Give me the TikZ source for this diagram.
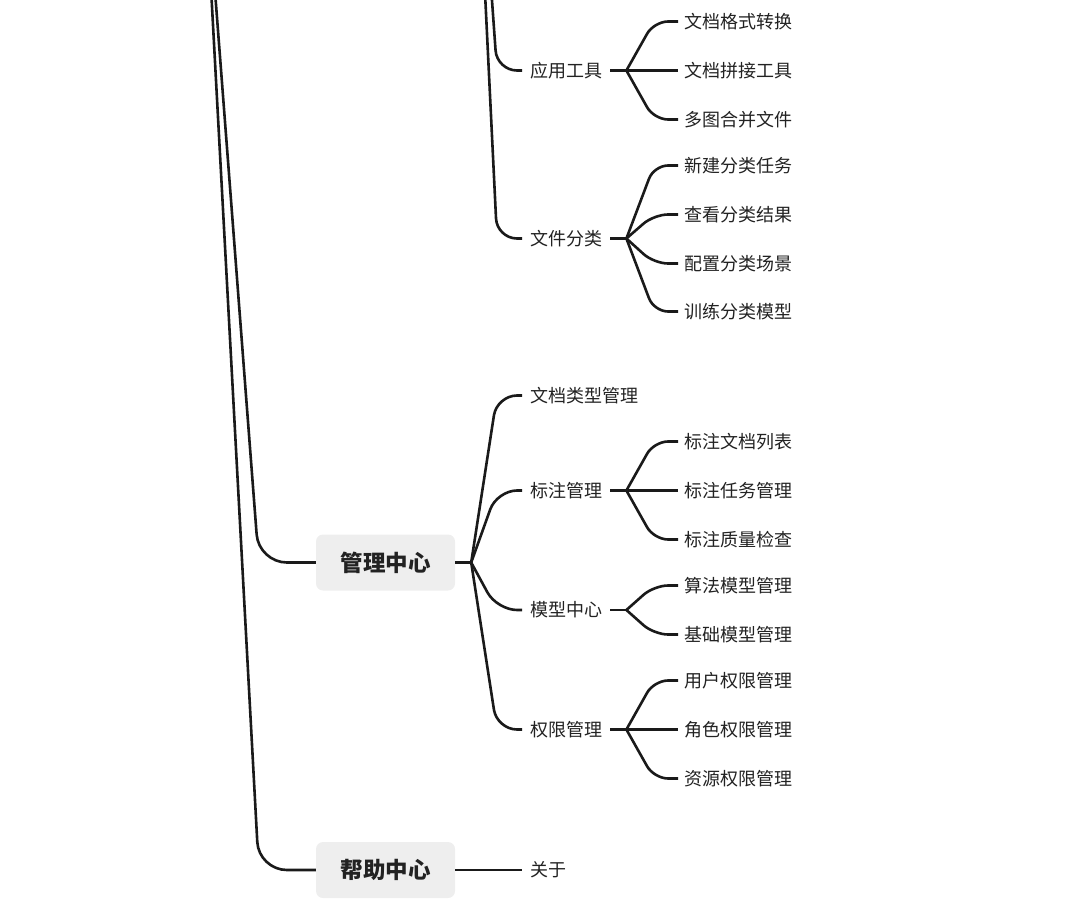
\documentclass[tikz,border=0pt]{standalone}
\usepackage{fontspec}
\newfontfamily\cjk{Noto Sans CJK SC}
\definecolor{ink}{HTML}{1A1A1A}
\definecolor{txt}{HTML}{222222}
\definecolor{boxgray}{HTML}{EEEEEE}
\begin{document}
\begin{tikzpicture}[x=1pt,y=-1pt,
  link/.style={draw=ink, line width=2.6pt, line join=round},
  toplink/.style={link, rounded corners=28pt},
  midlink/.style={link, rounded corners=20pt},
  leaflink/.style={link, rounded corners=14pt},
  topbox/.style={fill=boxgray, rounded corners=7pt, minimum width=139pt,
    minimum height=56pt, inner sep=0pt, text=txt,
    font=\cjk\bfseries\fontsize{22.5}{26}\selectfont},
  lvltwo/.style={anchor=west, inner xsep=8pt, inner ysep=2pt, text=txt,
    font=\cjk\fontsize{18}{22}\selectfont},
  lvlthree/.style={anchor=west, inner xsep=6pt, inner ysep=2pt, text=txt,
    font=\cjk\fontsize{18}{22}\selectfont}]
\useasboundingbox (0,0) rectangle (1070,912);
\clip (0,0) rectangle (1070,912);

% branch points of the parents above the frame
\coordinate (root) at (202,-178);
\coordinate (ju) at (471,-294);

% top-level topics
\node[topbox] (gl) at (385.5,562.5) {管理中心};
\node[topbox] (bz) at (385.5,870) {帮助中心};

% second level
\node[lvltwo] (yy) at (522,70.5) {应用工具};
\node[lvltwo] (wj) at (522,238.5) {文件分类};
\node[lvltwo] (lx) at (522,395.5) {文档类型管理};
\node[lvltwo] (bzgl) at (522,490.5) {标注管理};
\node[lvltwo] (mx) at (522,610) {模型中心};
\node[lvltwo] (qx) at (522,729.5) {权限管理};
\node[lvltwo] (gy) at (522,870) {关于};

% third level
\node[lvlthree] (a1) at (678,21.5) {文档格式转换};
\node[lvlthree] (a2) at (678,70.5) {文档拼接工具};
\node[lvlthree] (a3) at (678,119.5) {多图合并文件};
\node[lvlthree] (b1) at (678,165.5) {新建分类任务};
\node[lvlthree] (b2) at (678,214.5) {查看分类结果};
\node[lvlthree] (b3) at (678,263.5) {配置分类场景};
\node[lvlthree] (b4) at (678,311.5) {训练分类模型};
\node[lvlthree] (c1) at (678,441.5) {标注文档列表};
\node[lvlthree] (c2) at (678,490.5) {标注任务管理};
\node[lvlthree] (c3) at (678,539.5) {标注质量检查};
\node[lvlthree] (d1) at (678,585.5) {算法模型管理};
\node[lvlthree] (d2) at (678,634.5) {基础模型管理};
\node[lvlthree] (e1) at (678,680.5) {用户权限管理};
\node[lvlthree] (e2) at (678,729.5) {角色权限管理};
\node[lvlthree] (e3) at (678,778.5) {资源权限管理};

% root branches
\foreach \c in {gl,bz}
  \draw[toplink] (root) -- ([xshift=-57pt]\c.west) -- (\c.west);

% branches of the upper topic
\foreach \c in {yy,wj}
  \draw[midlink] (ju) -- ([xshift=-25pt]\c.west) -- (\c.west);

% 管理中心 branches
\coordinate (jg) at ([xshift=16pt]gl.east);
\draw[link] (gl.east) -- (jg);
\foreach \c in {lx,bzgl,mx,qx}
  \draw[midlink] (jg) -- ([xshift=-25pt]\c.west) -- (\c.west);

% 帮助中心 branch
\draw[link] (bz.east) -- (gy.west);

% leaf fans
\foreach \p/\kids in {yy/{a1,a2,a3}, wj/{b1,b2,b3,b4}, bzgl/{c1,c2,c3},
                      mx/{d1,d2}, qx/{e1,e2,e3}} {
  \coordinate (j\p) at ([xshift=16pt]\p.east);
  \draw[link] (\p.east) -- (j\p);
  \foreach \c in \kids
    \draw[leaflink] (j\p) -- ([xshift=-24pt]\c.west) -- (\c.west);
}
\end{tikzpicture}
\end{document}
